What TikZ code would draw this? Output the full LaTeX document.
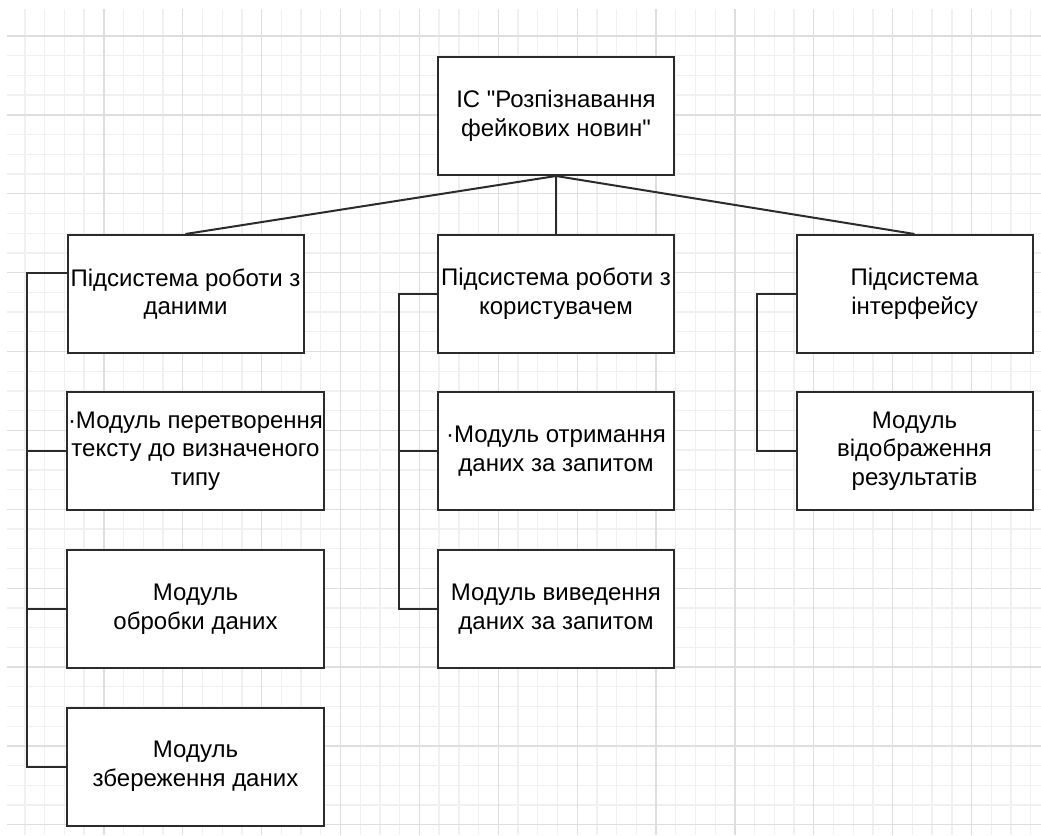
\documentclass[tikz,border=0pt]{standalone}
\usepackage{fontspec}
\setmainfont{Liberation Sans}[Ligatures=TeXOff]
\usetikzlibrary{calc}
\definecolor{gridminor}{HTML}{F0F0F0}
\definecolor{gridmajor}{HTML}{DEDEDE}
\definecolor{edge}{HTML}{2B2B2B}
\begin{document}
\begin{tikzpicture}[x=0.75pt,y=-0.75pt,
  blk/.style={draw=edge, line width=1.5pt, fill=white, align=center,
    inner sep=0pt, minimum height=88.5pt,
    font=\fontsize{18}{21.5}\selectfont},
  narrow/.style={blk, minimum width=177pt},
  wide/.style={blk, minimum width=192.75pt},
  link/.style={draw=edge, line width=1.5pt},
  gminor/.style={draw=gridminor, line width=1pt},
  gmajor/.style={draw=gridmajor, line width=1pt}]
\useasboundingbox (0,0) rectangle (1041,835);
\fill[white] (0,0) rectangle (1041,835);

% background grid
\foreach \k in {0,...,51} \draw[gminor] ({25+\k*19.72},9) -- ({25+\k*19.72},835);
\foreach \k in {0,...,40} \draw[gminor] (7,{36+\k*19.72}) -- (1041,{36+\k*19.72});
\foreach \j in {1,...,12} \draw[gmajor] ({25+\j*78.88},9) -- ({25+\j*78.88},835);
\foreach \j in {0,...,10} \draw[gmajor] (7,{36+\j*78.88}) -- (1041,{36+\j*78.88});

% blocks
\node[narrow] (root) at (556,116) {ІС "Розпізнавання\\фейкових новин"};

\node[narrow] (sd) at (185.5,294) {Підсистема роботи з\\даними};
\node[narrow] (su) at (556,294) {Підсистема роботи з\\користувачем};
\node[narrow] (si) at (914.5,294) {Підсистема\\інтерфейсу};

\node[wide] (d1) at (195.5,451) {·Модуль перетворення\\тексту до визначеного\\типу};
\node[wide] (d2) at (195.5,609) {Модуль\\обробки даних};
\node[wide] (d3) at (195.5,766.5) {Модуль\\збереження даних};

\node[narrow] (u1) at (556,451) {·Модуль отримання\\даних за запитом};
\node[narrow] (u2) at (556,609) {Модуль виведення\\даних за запитом};

\node[narrow] (i1) at (914.5,451) {Модуль\\відображення\\результатів};

% connectors from the root
\draw[link] (root.south) -- (sd.north);
\draw[link] (root.south) -- (su.north);
\draw[link] (root.south) -- (si.north);

% side buses
\coordinate (busd) at (27,0);
\coordinate (busu) at (399,0);
\coordinate (busi) at (757,0);

\draw[link] ([yshift=15.75pt]sd.west) -| (busd |- d3.west) -- (d3.west);
\draw[link] (d1.west) -- (busd |- d1.west);
\draw[link] (d2.west) -- (busd |- d2.west);

\draw[link] (su.west) -| (busu |- u2.west) -- (u2.west);
\draw[link] (u1.west) -- (busu |- u1.west);

\draw[link] (si.west) -| (busi |- i1.west) -- (i1.west);
\end{tikzpicture}
\end{document}
